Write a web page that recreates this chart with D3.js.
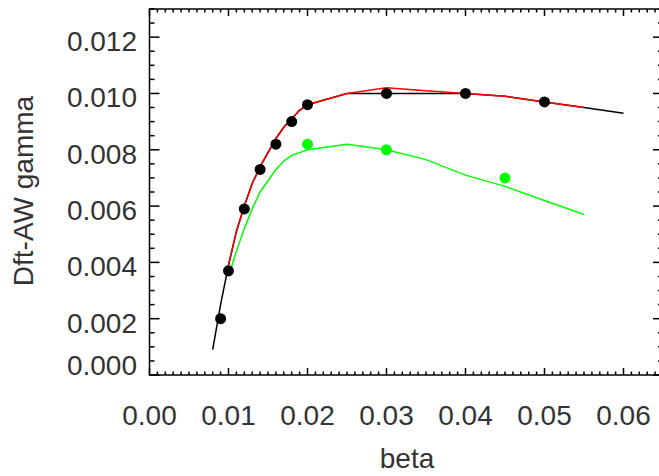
<!DOCTYPE html>
<meta charset="utf-8">
<style>
body { margin: 0; background: #fff; }
text { font-family: "Liberation Sans", Arial, sans-serif; fill: #333; }
.frame line { stroke: #000; stroke-width: 1.5; fill: none; }
</style>
<body>
<svg width="659" height="476"></svg>
<script src="https://d3js.org/d3.v7.min.js"></script>
<script>

// measured points
var ptBeta   = [0.009, 0.010, 0.012, 0.014, 0.016, 0.018, 0.020, 0.030, 0.040, 0.050];
var ptGamma  = [0.0020, 0.0037, 0.0059, 0.0073, 0.0082, 0.0090, 0.0096, 0.0100, 0.0100, 0.0097];
var gptBeta  = [0.020, 0.030, 0.045];
var gptGamma = [0.0082, 0.0080, 0.0070];

// model curves
var blkBeta  = [0.008, 0.009, 0.010, 0.011, 0.012, 0.013, 0.014, 0.015, 0.016, 0.017, 0.018, 0.019, 0.020, 0.025, 0.030, 0.035, 0.040, 0.045, 0.050, 0.055, 0.060];
var blkGamma = [0.0009, 0.0025, 0.0039, 0.0051, 0.0060, 0.0068, 0.0074, 0.0079, 0.0084, 0.0088, 0.0091, 0.0094, 0.0096, 0.0100, 0.0100, 0.0100, 0.0100, 0.0099, 0.0097, 0.0095, 0.0093];
var redBeta  = [0.010, 0.011, 0.012, 0.013, 0.014, 0.015, 0.016, 0.017, 0.018, 0.019, 0.020, 0.025, 0.030, 0.035, 0.040, 0.045, 0.050, 0.055];
var redGamma = [0.0039, 0.0051, 0.0060, 0.0068, 0.0074, 0.0079, 0.0084, 0.0088, 0.0091, 0.0094, 0.0096, 0.0100, 0.0102, 0.0101, 0.0100, 0.0099, 0.0097, 0.0095];
var grnBeta  = [0.010, 0.011, 0.012, 0.013, 0.014, 0.015, 0.016, 0.017, 0.018, 0.019, 0.020, 0.025, 0.030, 0.035, 0.040, 0.045, 0.050, 0.055];
var grnGamma = [0.0035, 0.0044, 0.0052, 0.0059, 0.0065, 0.0069, 0.0073, 0.0076, 0.0078, 0.0079, 0.0080, 0.0082, 0.0080, 0.00765, 0.0071, 0.0067, 0.0062, 0.0057];

var xTicks = [0.00, 0.01, 0.02, 0.03, 0.04, 0.05, 0.06];
var yTicks = [0.000, 0.002, 0.004, 0.006, 0.008, 0.010, 0.012];

var svg = d3.select("svg"),
    pLeft = 149.5, pTop = 9, pRight = 663, pBottom = 375;

var x = d3.scaleLinear().domain([0, 0.065]).range([pLeft, pRight]);
var y = d3.scaleLinear().domain([0, 0.013]).range([pBottom, pTop]);

var frame = svg.append("g").attr("class", "frame");

frame.append("rect")
    .attr("x", pLeft).attr("y", pTop)
    .attr("width", pRight - pLeft).attr("height", pBottom - pTop)
    .attr("fill", "none").attr("stroke", "#000").attr("stroke-width", 1.5);

var xMinor = d3.range(0, 66).map(function(i) { return i / 1000; });
var yMinor = d3.range(0, 27).map(function(i) { return i * 0.0005; });

function isMajor(v, step) { return Math.abs(v / step - Math.round(v / step)) < 1e-6; }

// ticks on bottom and top
xMinor.forEach(function(v) {
  var len = isMajor(v, 0.01) ? 7 : 3.5;
  frame.append("line").attr("x1", x(v)).attr("x2", x(v)).attr("y1", pBottom).attr("y2", pBottom - len);
  frame.append("line").attr("x1", x(v)).attr("x2", x(v)).attr("y1", pTop).attr("y2", pTop + len);
});

// ticks on left and right
yMinor.forEach(function(v) {
  var len = isMajor(v, 0.002) ? 10 : 5;
  frame.append("line").attr("x1", pLeft).attr("x2", pLeft + len).attr("y1", y(v)).attr("y2", y(v));
  frame.append("line").attr("x1", pRight).attr("x2", pRight - len).attr("y1", y(v)).attr("y2", y(v));
});

svg.selectAll(".xl").data(xTicks).enter().append("text")
    .attr("class", "xl")
    .attr("x", function(d) { return x(d); })
    .attr("y", 425)
    .attr("text-anchor", "middle")
    .attr("font-size", 28)
    .text(function(d) { return d.toFixed(2); });

svg.selectAll(".yl").data(yTicks).enter().append("text")
    .attr("class", "yl")
    .attr("x", 137)
    .attr("y", function(d) { return Math.min(y(d) + 14, pBottom); })
    .attr("text-anchor", "end")
    .attr("font-size", 28)
    .text(function(d) { return d.toFixed(3); });

svg.append("text")
    .attr("x", 407).attr("y", 468)
    .attr("text-anchor", "middle")
    .attr("font-size", 28)
    .text("beta");

svg.append("text")
    .attr("transform", "translate(33,191) rotate(-90)")
    .attr("text-anchor", "middle")
    .attr("font-size", 28)
    .text("Dft-AW gamma");

var line = d3.line()
    .x(function(d) { return x(d[0]); })
    .y(function(d) { return y(d[1]); });

function pairs(a, b) { return a.map(function(v, i) { return [v, b[i]]; }); }

svg.append("path").datum(pairs(blkBeta, blkGamma))
    .attr("d", line).attr("fill", "none").attr("stroke", "#000").attr("stroke-width", 1.5);
svg.append("path").datum(pairs(grnBeta, grnGamma))
    .attr("d", line).attr("fill", "none").attr("stroke", "#00ff00").attr("stroke-width", 1.5);
svg.append("path").datum(pairs(redBeta, redGamma))
    .attr("d", line).attr("fill", "none").attr("stroke", "#ff0000").attr("stroke-width", 1.5);

svg.selectAll(".pt").data(pairs(ptBeta, ptGamma)).enter().append("circle")
    .attr("class", "pt")
    .attr("cx", function(d) { return x(d[0]); })
    .attr("cy", function(d) { return y(d[1]); })
    .attr("r", 5.5)
    .attr("fill", "#000");

svg.selectAll(".gpt").data(pairs(gptBeta, gptGamma)).enter().append("circle")
    .attr("class", "gpt")
    .attr("cx", function(d) { return x(d[0]); })
    .attr("cy", function(d) { return y(d[1]); })
    .attr("r", 5.5)
    .attr("fill", "#00ff00");

</script>
</body>
